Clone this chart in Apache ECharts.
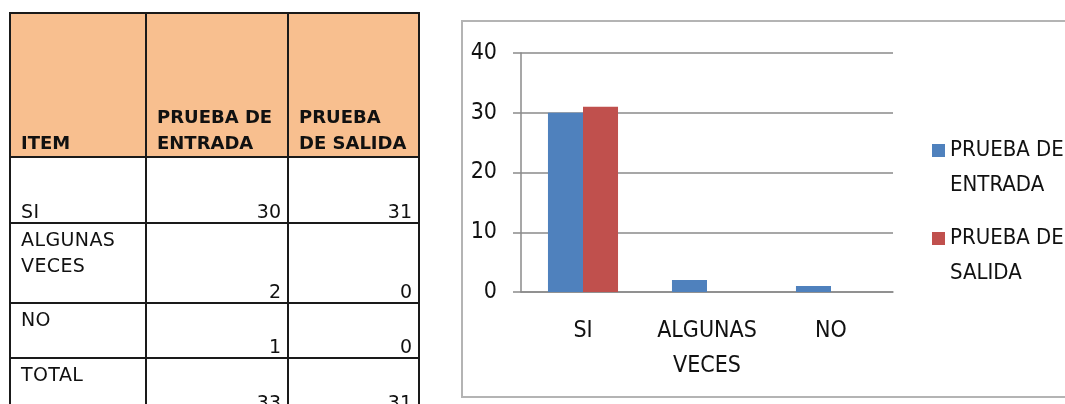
<!DOCTYPE html>
<html>
<head>
<meta charset="utf-8">
<script src="https://cdn.jsdelivr.net/npm/echarts@6/dist/echarts.min.js"></script>
<style>
  html, body { margin: 0; padding: 0; background: #fff; }
  #chart { position: absolute; left: 0; top: 0; width: 1065px; height: 404px; }
  #frame {
    position: absolute; left: 461px; top: 20px; width: 620px; height: 378px;
    border: 2px solid #b4b4b4; box-sizing: border-box;
  }
  #tabla {
    position: absolute; left: 9px; top: 12px; z-index: 2;
    border-collapse: collapse; table-layout: fixed; width: 409px;
    font-family: "DejaVu Sans", Verdana, sans-serif; font-size: 19px;
    line-height: 26px; color: #111;
  }
  #tabla td { border: 2px solid #1a1a1a; padding: 0 6px 0 10px; background: #fff; }
  #tabla td.num { text-align: right; vertical-align: bottom; }
  #tabla td.top { vertical-align: top; padding-top: 2px; letter-spacing: 0.4px; }
  #tabla td.bot { vertical-align: bottom; letter-spacing: 0.4px; }
  #tabla td.num span, #tabla td.bot span { position: relative; top: 2px; }
  #tabla tr.head td {
    background: #f8bf8f; font-weight: bold; vertical-align: bottom; height: 142px;
    font-size: 18px;
  }
</style>
</head>
<body>
<div id="frame"></div>
<div id="chart"></div>
<table id="tabla"></table>
<script>
const headers = ["ITEM", "PRUEBA DE ENTRADA", "PRUEBA DE SALIDA"];
const categories = ["SI", "ALGUNAS VECES", "NO"];
const entrada = [30, 2, 1];
const salida = [31, 0, 0];
const totalLabel = "TOTAL";
const totals = [33, 31];
const yTicks = { min: 0, max: 40, interval: 10 };

// table (left side)
const rowHeights = [66, 80, 55, 56];
const itemAlign = ["bot", "top", "top", "top"];
const tabla = document.getElementById("tabla");
let html = '<colgroup><col style="width:136px"><col style="width:142px"><col style="width:131px"></colgroup>';
html += '<tr class="head">' + headers.map((h) => `<td>${h}</td>`).join("") + "</tr>";
const rows = categories.map((c, i) => [c, entrada[i], salida[i]]);
rows.push([totalLabel, totals[0], totals[1]]);
rows.forEach((r, i) => {
  html += `<tr style="height:${rowHeights[i]}px"><td class="${itemAlign[i]}"><span>${r[0]}</span></td>` +
    `<td class="num"><span>${r[1]}</span></td><td class="num"><span>${r[2]}</span></td></tr>`;
});
tabla.innerHTML = html;

// chart (right side)
const font = '"Liberation Sans Narrow", "DejaVu Sans Condensed", "Arial Narrow", sans-serif';
const gray = "#8a8a8a";
const chart = echarts.init(document.getElementById("chart"));
chart.setOption({
  animation: false,
  grid: { left: 521, top: 53, width: 372, height: 239 },
  legend: {
    orient: "vertical",
    left: 927,
    top: 93,
    itemWidth: 13,
    itemHeight: 13,
    itemGap: -17,
    icon: "rect",
    // blank first line so the marker sits beside the first text line
    formatter: (name) => " \n" + name.replace("DE ", "DE\n"),
    textStyle: { fontFamily: font, fontSize: 22, color: "#111", lineHeight: 35 },
  },
  xAxis: {
    type: "category",
    data: categories,
    axisLine: { lineStyle: { color: gray, width: 1.5 } },
    axisTick: { length: 8, lineStyle: { color: gray, width: 1.5 } },
    axisLabel: {
      fontFamily: font, fontSize: 23, color: "#111", lineHeight: 35, margin: 22,
      interval: 0,
      formatter: (v) => v.replace(" ", "\n"),
    },
  },
  yAxis: {
    type: "value",
    min: yTicks.min,
    max: yTicks.max,
    interval: yTicks.interval,
    axisLine: { show: true, lineStyle: { color: gray, width: 1.5 } },
    axisTick: { show: true, length: 8, lineStyle: { color: gray, width: 1.5 } },
    splitLine: { lineStyle: { color: gray, width: 1.5 } },
    axisLabel: { fontFamily: font, fontSize: 23, color: "#111", margin: 24 },
  },
  series: [
    {
      name: "PRUEBA DE ENTRADA",
      type: "bar",
      data: entrada,
      barGap: "0%",
      barCategoryGap: "43.5%",
      itemStyle: { color: "#4f81bd" },
    },
    {
      name: "PRUEBA DE SALIDA",
      type: "bar",
      data: salida,
      itemStyle: { color: "#c0504d" },
    },
  ],
});
</script>
</body>
</html>
